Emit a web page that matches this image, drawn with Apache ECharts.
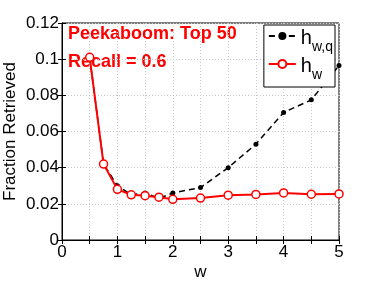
<!DOCTYPE html>
<html><head><meta charset="utf-8">
<script src="https://cdn.jsdelivr.net/npm/echarts@6/dist/echarts.min.js"></script>
<style>html,body{margin:0;padding:0;background:#fff}#c{width:374px;height:281px}</style>
</head><body><div id="c"></div>
<script>
const wValues = [0.5, 0.75, 1, 1.25, 1.5, 1.75, 2, 2.5, 3, 3.5, 4, 4.5, 5];
const hwq = [0.101, 0.042, 0.030, 0.025, 0.026, 0.023, 0.026, 0.029, 0.040, 0.053, 0.0705, 0.0775, 0.0965];
const hw  = [0.101, 0.042, 0.028, 0.025, 0.0245, 0.0237, 0.0225, 0.0232, 0.0248, 0.0252, 0.026, 0.0253, 0.0255];
const xTicks = [0, 1, 2, 3, 4, 5];
const yTicks = [0, 0.02, 0.04, 0.06, 0.08, 0.1, 0.12];
const seriesNames = ['hwq', 'hw'];
const annotation = ['Peekaboom: Top 50', 'Recall = 0.6'];

const font = 'Liberation Sans, Arial, sans-serif';
const chart = echarts.init(document.getElementById('c'));
const grid = {left: 62, right: 35, top: 23, bottom: 41};
const gridStyle = {show: true, lineStyle: {color: '#c8c8c8', type: [1, 2], width: 1}};
const tick = {show: true, inside: true, length: 4, lineStyle: {color: '#000'}};
chart.setOption({
  animation: false,
  grid: Object.assign({show: true, borderColor: '#000', borderWidth: 1, backgroundColor: '#fff', outerBoundsMode: 'none', containLabel: false}, grid),
  xAxis: [{
    type: 'value', min: 0, max: 5, interval: 0.5,
    name: 'w', nameLocation: 'middle', nameGap: 24, nameMoveOverlap: false,
    nameTextStyle: {color: '#000', fontSize: 17, fontFamily: font},
    axisLine: {show: true, lineStyle: {color: '#000'}}, axisTick: tick,
    axisLabel: {color: '#000', fontSize: 17, fontFamily: font, margin: 4,
      formatter: v => xTicks.indexOf(v) >= 0 ? String(v) : ''},
    splitLine: gridStyle
  }, {
    type: 'value', min: 0, max: 5, interval: 0.5, position: 'top',
    axisLine: {show: true, lineStyle: {color: '#000'}}, axisTick: tick,
    axisLabel: {show: false}, splitLine: {show: false}
  }],
  yAxis: [{
    type: 'value', min: 0, max: 0.12, interval: 0.02,
    name: 'Fraction Retrieved', nameLocation: 'middle', nameGap: 43, nameMoveOverlap: false,
    nameTextStyle: {color: '#000', fontSize: 17, fontFamily: font},
    axisLine: {show: true, lineStyle: {color: '#000'}}, axisTick: tick,
    axisLabel: {color: '#000', fontSize: 17, fontFamily: font, margin: 3,
      formatter: v => { const t = yTicks.find(y => Math.abs(y - v) < 1e-9); return t === undefined ? '' : String(+t.toFixed(2)); }},
    splitLine: gridStyle
  }, {
    type: 'value', min: 0, max: 0.12, interval: 0.02, position: 'right',
    axisLine: {show: true, lineStyle: {color: '#000'}}, axisTick: tick,
    axisLabel: {show: false}, splitLine: {show: false}
  }],
  legend: {
    right: 39, top: 25, orient: 'vertical', itemWidth: 27, itemHeight: 10, itemGap: 2,
    backgroundColor: '#fff', borderColor: '#000', borderWidth: 1, padding: [3, 2, 5, 4],
    data: seriesNames,
    formatter: n => n === 'hwq' ? '{h|h}{s|w,q}' : '{h|h}{s|w}',
    textStyle: {rich: {
      h: {fontSize: 20, fontFamily: font, color: '#000', verticalAlign: 'bottom', lineHeight: 24},
      s: {fontSize: 14, fontFamily: font, color: '#000', verticalAlign: 'bottom', lineHeight: 14, padding: [0,0,-6,0]}
    }}
  },
  graphic: [
    {type: 'text', left: 68, top: 25, style: {text: annotation[0], fill: '#ff0000', font: 'bold 18px ' + font}},
    {type: 'text', left: 68, top: 53, style: {text: annotation[1], fill: '#ff0000', font: 'bold 18px ' + font}}
  ],
  series: [{
    name: 'hwq', type: 'line', data: wValues.map((x, i) => [x, hwq[i]]),
    lineStyle: {color: '#000', width: 1.5, type: [6, 4]}, itemStyle: {color: '#000', borderWidth: 0},
    symbol: 'circle', symbolSize: 5, showAllSymbol: true, z: 2
  }, {
    name: 'hw', type: 'line', data: wValues.map((x, i) => [x, hw[i]]),
    lineStyle: {color: '#ff0000', width: 2}, itemStyle: {color: '#fff', borderColor: '#ff0000', borderWidth: 1.5},
    symbol: 'circle', symbolSize: 8, showAllSymbol: true, z: 3
  }]
});
</script></body></html>
